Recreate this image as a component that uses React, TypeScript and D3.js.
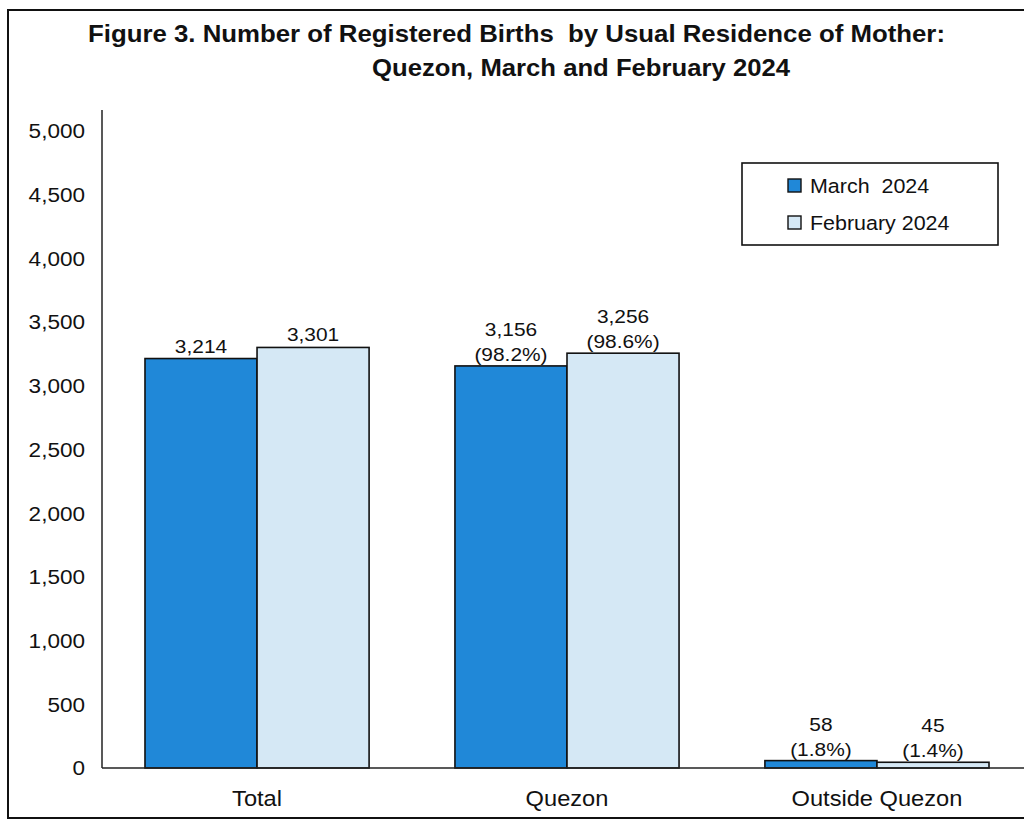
import React, { useEffect, useRef } from "react";
import * as d3 from "d3";

const categories = ["Total", "Quezon", "Outside Quezon"];
const seriesNames = ["March  2024", "February 2024"];
const marchValues = [3214, 3156, 58];
const februaryValues = [3301, 3256, 45];
const marchPct = ["", "(98.2%)", "(1.8%)"];
const februaryPct = ["", "(98.6%)", "(1.4%)"];
const yTicks = [0, 500, 1000, 1500, 2000, 2500, 3000, 3500, 4000, 4500, 5000];
const colors = ["#2088d8", "#d5e8f5"];

const W = 1024;
const H = 820;
const SX = 1.1;

export default function App() {
  const ref = useRef<SVGSVGElement>(null);

  useEffect(() => {
    const svg = d3.select(ref.current);
    svg.selectAll("*").remove();
    const font = "'Liberation Sans', Arial, sans-serif";

    const label = (
      parent: d3.Selection<any, unknown, null, undefined>,
      x: number,
      y: number,
      text: string,
      size: number,
      anchor: string,
      dy = "0"
    ) =>
      parent
        .append("text")
        .attr("transform", `translate(${x},${y}) scale(${SX},1)`)
        .attr("dy", dy)
        .attr("text-anchor", anchor)
        .attr("font-family", font)
        .attr("font-size", size)
        .attr("fill", "#111")
        .style("white-space", "pre")
        .text(text);

    // frame
    svg.append("rect").attr("x", 8).attr("y", 10).attr("width", 1040).attr("height", 808)
      .attr("fill", "white").attr("stroke", "#111").attr("stroke-width", 2);

    // title
    const tf = "'Liberation Sans', Arial, sans-serif";
    svg.append("text").attr("x", 88).attr("y", 42).attr("font-family", tf).attr("font-weight", "bold")
      .attr("font-size", 24).attr("fill", "#111").attr("textLength", 857).attr("lengthAdjust", "spacingAndGlyphs")
      .style("white-space", "pre")
      .text("Figure 3. Number of Registered Births  by Usual Residence of Mother:");
    svg.append("text").attr("x", 372).attr("y", 76).attr("font-family", tf).attr("font-weight", "bold")
      .attr("font-size", 24).attr("fill", "#111").attr("textLength", 418).attr("lengthAdjust", "spacingAndGlyphs")
      .text("Quezon, March and February 2024");

    const y = d3.scaleLinear().domain([0, 5000]).range([768, 131]);
    const x = d3.scaleBand<string>().domain(categories).range([102, 1032]).paddingInner(0.277).paddingOuter(0.1387);
    const xs = d3.scaleBand<string>().domain(["m", "f"]).range([0, x.bandwidth()]);

    // y axis
    svg.append("line").attr("x1", 102).attr("x2", 102).attr("y1", 110).attr("y2", 768)
      .attr("stroke", "#222").attr("stroke-width", 1.5);
    const yg = svg.append("g");
    yTicks.forEach((d) => label(yg, 85, y(d), d3.format(",")(d), 20.5, "end", "0.36em"));

    const series = [
      { key: "m", vals: marchValues, pct: marchPct, color: colors[0] },
      { key: "f", vals: februaryValues, pct: februaryPct, color: colors[1] },
    ];

    series.forEach((s) => {
      const g = svg.append("g");
      g.selectAll("rect").data(categories).join("rect")
        .attr("x", (c) => (x(c) as number) + (xs(s.key) as number))
        .attr("y", (c, i) => y(s.vals[i]))
        .attr("width", xs.bandwidth())
        .attr("height", (c, i) => 768 - y(s.vals[i]))
        .attr("fill", s.color).attr("stroke", "#111").attr("stroke-width", 1.6);
      categories.forEach((c, i) => {
        const cx = (x(c) as number) + (xs(s.key) as number) + xs.bandwidth() / 2;
        const top = y(s.vals[i]);
        if (s.pct[i]) {
          label(g, cx, top - 30, d3.format(",")(s.vals[i]), 19, "middle");
          label(g, cx, top - 5, s.pct[i], 19, "middle");
        } else {
          label(g, cx, top - 6, d3.format(",")(s.vals[i]), 19, "middle");
        }
      });
    });

    // x axis
    svg.append("line").attr("x1", 102).attr("x2", 1024).attr("y1", 768).attr("y2", 768)
      .attr("stroke", "#222").attr("stroke-width", 1.6);
    const xg = svg.append("g");
    categories.forEach((c) => label(xg, (x(c) as number) + x.bandwidth() / 2, 806, c, 21.5, "middle"));

    // legend
    const lg = svg.append("g");
    lg.append("rect").attr("x", 742).attr("y", 163).attr("width", 256).attr("height", 82)
      .attr("fill", "white").attr("stroke", "#111").attr("stroke-width", 1.6);
    seriesNames.forEach((n, i) => {
      const yy = 186 + i * 37;
      lg.append("rect").attr("x", 788).attr("y", yy - 7).attr("width", 13).attr("height", 13)
        .attr("fill", colors[i]).attr("stroke", "#111").attr("stroke-width", 1.4);
      label(lg, 810, yy, n, 19.5, "start", "0.36em");
    });
  }, []);

  return (
    <svg ref={ref} width={W} height={H} style={{ position: "absolute", left: 0, top: 0, display: "block", background: "white" }} />
  );
}
